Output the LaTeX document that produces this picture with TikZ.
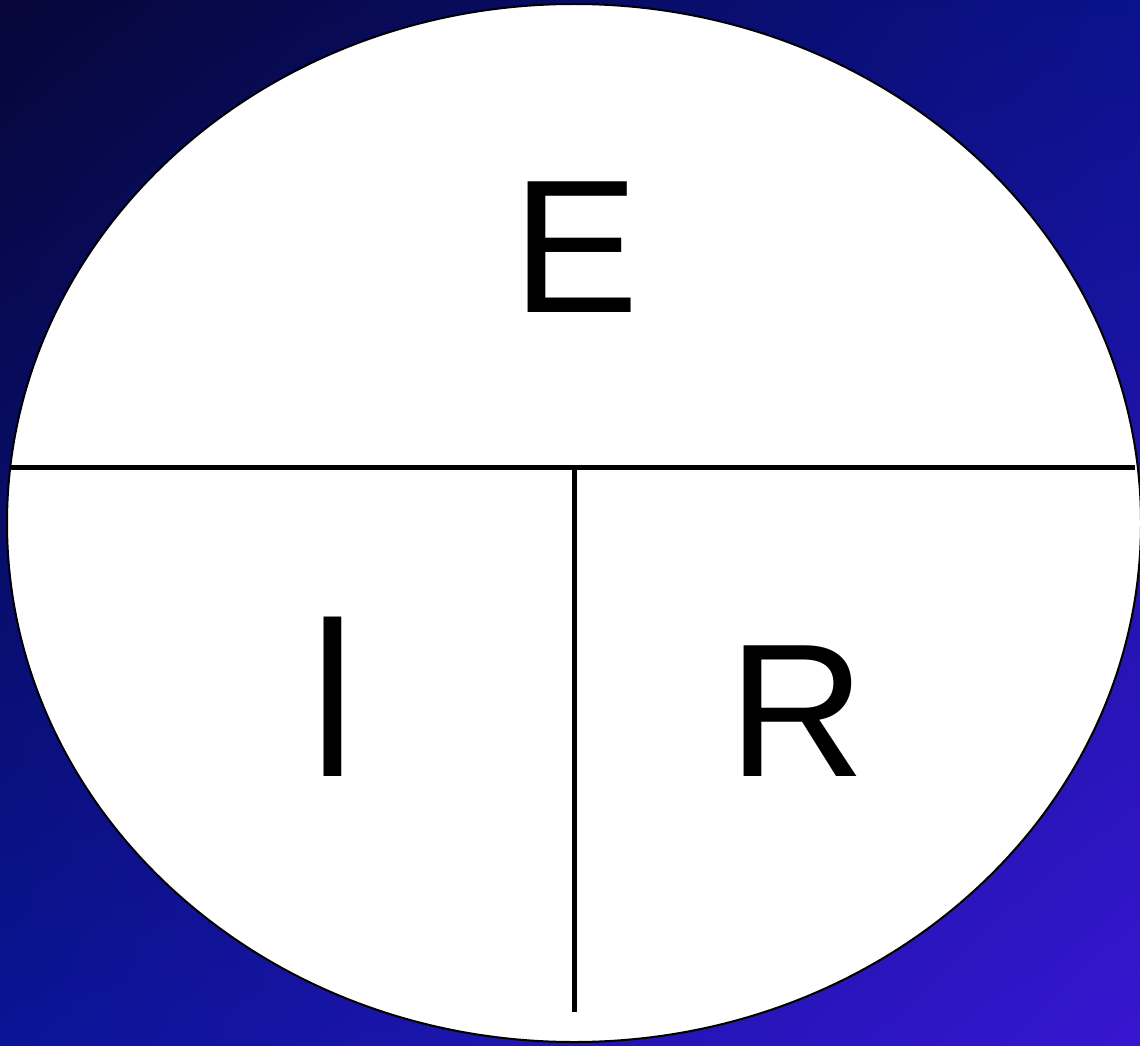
\documentclass[tikz,border=0pt]{standalone}
\usepackage{fontspec}
\setmainfont{Liberation Sans}
\usetikzlibrary{shapes.geometric,shadings}
\definecolor{bgUL}{RGB}{6,6,56}
\definecolor{bgUR}{RGB}{10,18,140}
\definecolor{bgLL}{RGB}{10,20,150}
\definecolor{bgLR}{RGB}{55,22,208}
\tikzset{
  bigletter/.style={inner sep=0pt, anchor=base, font=\fontsize{190}{190}\selectfont},
  divider/.style={line width=5pt, black},
}
\begin{document}
\begin{tikzpicture}[x=1pt, y=-1pt]
\useasboundingbox (0,0) rectangle (1140,1046);
\shade[upper left=bgUL, upper right=bgUR, lower left=bgLL, lower right=bgLR] (0,0) rectangle (1140,1046);
\node[ellipse, draw=black, line width=2pt, fill=white, minimum width=1134pt, minimum height=1038pt, inner sep=0pt] (oval) at (574,523) {};
\coordinate (hl) at (9,467);
\coordinate (hr) at (1135,467);
\coordinate (vt) at (574,467);
\coordinate (vb) at (574,1012);
\draw[divider] (hl) -- (hr);
\draw[divider] (vt) -- (vb);
\node[bigletter] (E) at (576,312) {E};
\node[bigletter] (I) at (333,776) {\scalebox{1}[1.22]{I}};
\node[bigletter] (R) at (797,776) {R};
\end{tikzpicture}
\end{document}
